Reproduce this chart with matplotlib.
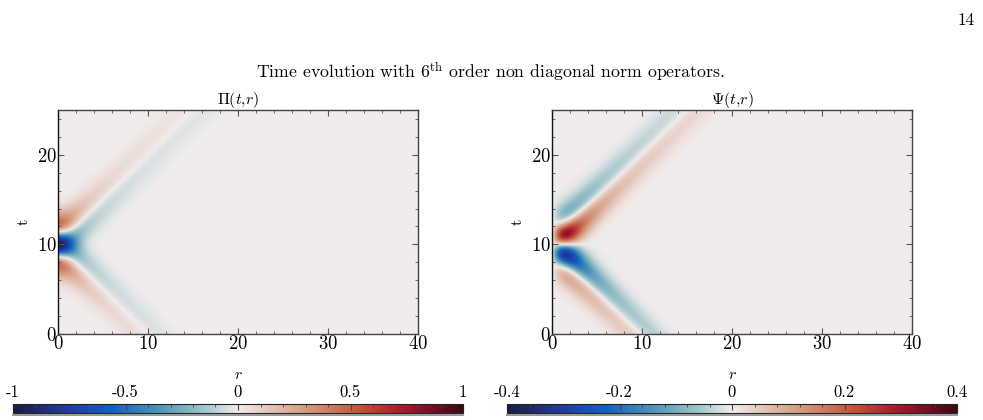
import numpy as np
import matplotlib
matplotlib.use('Agg')
import matplotlib.pyplot as plt
from matplotlib.colors import LinearSegmentedColormap
from matplotlib.lines import Line2D
from matplotlib.ticker import MultipleLocator, FixedLocator, FixedFormatter

plt.rcParams['font.family'] = 'serif'
plt.rcParams['font.serif'] = ['cmr10']
plt.rcParams['mathtext.fontset'] = 'cm'
plt.rcParams['axes.formatter.use_mathtext'] = True
plt.rcParams['axes.unicode_minus'] = False

# pulse: centred at t = 10 at the origin, width about 2
t_center = 10.0
width = 2.0
r_range = [0, 40]
t_range = [0, 25]

# colour scale limits and tick labels
pi_limits = [-1, 1]
psi_limits = [-0.4, 0.4]
pi_ticks = [-1, -0.5, 0, 0.5, 1]
pi_ticklabels = ['-1', '-0.5', '0', '0.5', '1']
psi_ticks = [-0.4, -0.2, 0, 0.2, 0.4]
psi_ticklabels = ['-0.4', '-0.2', '0', '0.2', '0.4']

# balance-like colour map
cmap_stops = [0.0, 0.12, 0.22, 0.32, 0.42, 0.5, 0.58, 0.68, 0.78, 0.86, 0.93, 1.0]
cmap_colors = ['#181c43', '#25399e', '#0f62c2', '#4b92b8', '#9cc3c8', '#f1ecec',
               '#e2bfb0', '#d18a6c', '#bf4f36', '#a41f2a', '#7a0b2a', '#3c0912']
balance = LinearSegmentedColormap.from_list('balance', list(zip(cmap_stops, cmap_colors)), N=257)

# spherical wave field  phi = (G(t+r) - G(t-r)) / r
r = np.linspace(r_range[0] + 0.02, r_range[1], 801)
t = np.linspace(t_range[0], t_range[1], 501)
R, T = np.meshgrid(r, t)


def G(x):
    return np.exp(-((x - t_center) / width) ** 2)


def dG(x):
    return -2 * (x - t_center) / width ** 2 * G(x)


Pi = (dG(T + R) - dG(T - R)) / R
Psi = (dG(T + R) + dG(T - R)) / R - (G(T + R) - G(T - R)) / R ** 2

fig = plt.figure(figsize=(9.83, 4.2), dpi=100)

fig.text(490 / 983, 1 - 72 / 420, r'Time evolution with $6^{\mathrm{th}}$ order non diagonal norm operators.',
         ha='center', va='center', fontsize=12.8)
fig.text(966 / 983, 1 - 20 / 420, '14', ha='center', va='center', fontsize=12.5)

panels = [
    (58, Pi, pi_limits, r'$\Pi(t{,}r)$', pi_ticks, pi_ticklabels, 13, 0.1),
    (552, Psi, psi_limits, r'$\Psi(t{,}r)$', psi_ticks, psi_ticklabels, 507, 0.04),
]

for ax_x, field, lims, title, cticks, clabels, cb_x, cminor in panels:
    ax = fig.add_axes([ax_x / 983, 86 / 420, 360 / 983, 224 / 420])
    im = ax.imshow(field, origin='lower', extent=[r_range[0], r_range[1], t_range[0], t_range[1]],
                   aspect='auto', cmap=balance, vmin=lims[0], vmax=lims[1], interpolation='bilinear')
    ax.set_xlim(r_range)
    ax.set_ylim(t_range)
    ax.set_xticks([0, 10, 20, 30, 40])
    ax.set_yticks([0, 10, 20])
    ax.xaxis.set_minor_locator(MultipleLocator(2))
    ax.yaxis.set_minor_locator(MultipleLocator(2))
    ax.tick_params(which='both', direction='in', top=True, right=True, color='#555555', labelsize=13.5)
    ax.tick_params(which='major', length=4, pad=1)
    ax.tick_params(which='minor', length=2.5)
    for s in ax.spines.values():
        s.set_color('#444444')
        s.set_linewidth(1.0)
    ax.spines['left'].set_color('#111111')
    ax.set_title(title, fontsize=11.5, pad=3)
    ax.set_xlabel('$r$', fontsize=11.5, labelpad=11)
    ax.set_ylabel('t', fontsize=11.5, labelpad=4)

    cax = fig.add_axes([cb_x / 983, 1 - 413 / 420, 450 / 983, 9 / 420])
    cb = fig.colorbar(im, cax=cax, orientation='horizontal')
    cb.outline.set_edgecolor('#222222')
    cb.outline.set_linewidth(0.8)
    cax.xaxis.set_ticks_position('top')
    cax.xaxis.set_label_position('top')
    cax.xaxis.set_major_locator(FixedLocator(cticks))
    cax.xaxis.set_major_formatter(FixedFormatter(clabels))
    cax.xaxis.set_minor_locator(MultipleLocator(cminor))
    cax.tick_params(which='both', direction='in', color='#444444', labelsize=12, pad=3)
    cax.tick_params(which='major', length=4)
    cax.tick_params(which='minor', length=2.5)
    fig.add_artist(Line2D([cb_x / 983, (cb_x + 450) / 983], [1 - 415 / 420, 1 - 415 / 420],
                          transform=fig.transFigure, color='#9a9a9a', lw=1.5))

fig.savefig('out.png', dpi=100)
